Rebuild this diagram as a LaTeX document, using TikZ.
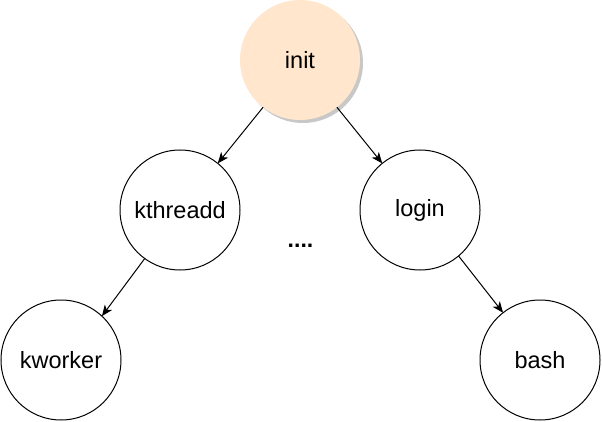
\documentclass[tikz,border=0pt]{standalone}
\usepackage{fontspec}
\setmainfont{Liberation Sans}
\usetikzlibrary{arrows.meta,shadows}
\definecolor{peach}{HTML}{FFE6CC}
\definecolor{shadowgray}{HTML}{C8C8C8}
\tikzset{
  proc/.style={circle, draw=black, line width=1pt, fill=white, minimum size=120pt,
    inner sep=0pt, outer sep=0pt, font=\fontsize{23.5}{26}\selectfont},
  rootproc/.style={proc, draw=none, fill=peach,
    drop shadow={shadow xshift=3pt, shadow yshift=-3pt, fill=shadowgray, opacity=1}},
  link/.style={line width=1pt, -{Stealth[length=11pt, width=9pt, inset=3pt]}}
}
\begin{document}
\begin{tikzpicture}[x=1pt, y=-1pt]
\useasboundingbox (0,0) rectangle (602,422);
\node[rootproc] (init) at (300,60) {init};
\node[proc] (kthreadd) at (180,210) {kthreadd};
\node[proc] (login) at (420,210) {login};
\node[proc] (kworker) at (61,360) {kworker};
\node[proc] (bash) at (540,360) {bash};
\node[anchor=base, inner sep=0pt, font=\fontsize{23}{26}\selectfont\bfseries] (dots) at (300.5,247.5) {....};
\draw[link] (init.232) -- (kthreadd.51);
\draw[link] (init.308) -- (login.129);
\draw[link] (kthreadd.234) -- (kworker.47);
\draw[link] (login.310) -- (bash.128);
\end{tikzpicture}
\end{document}
